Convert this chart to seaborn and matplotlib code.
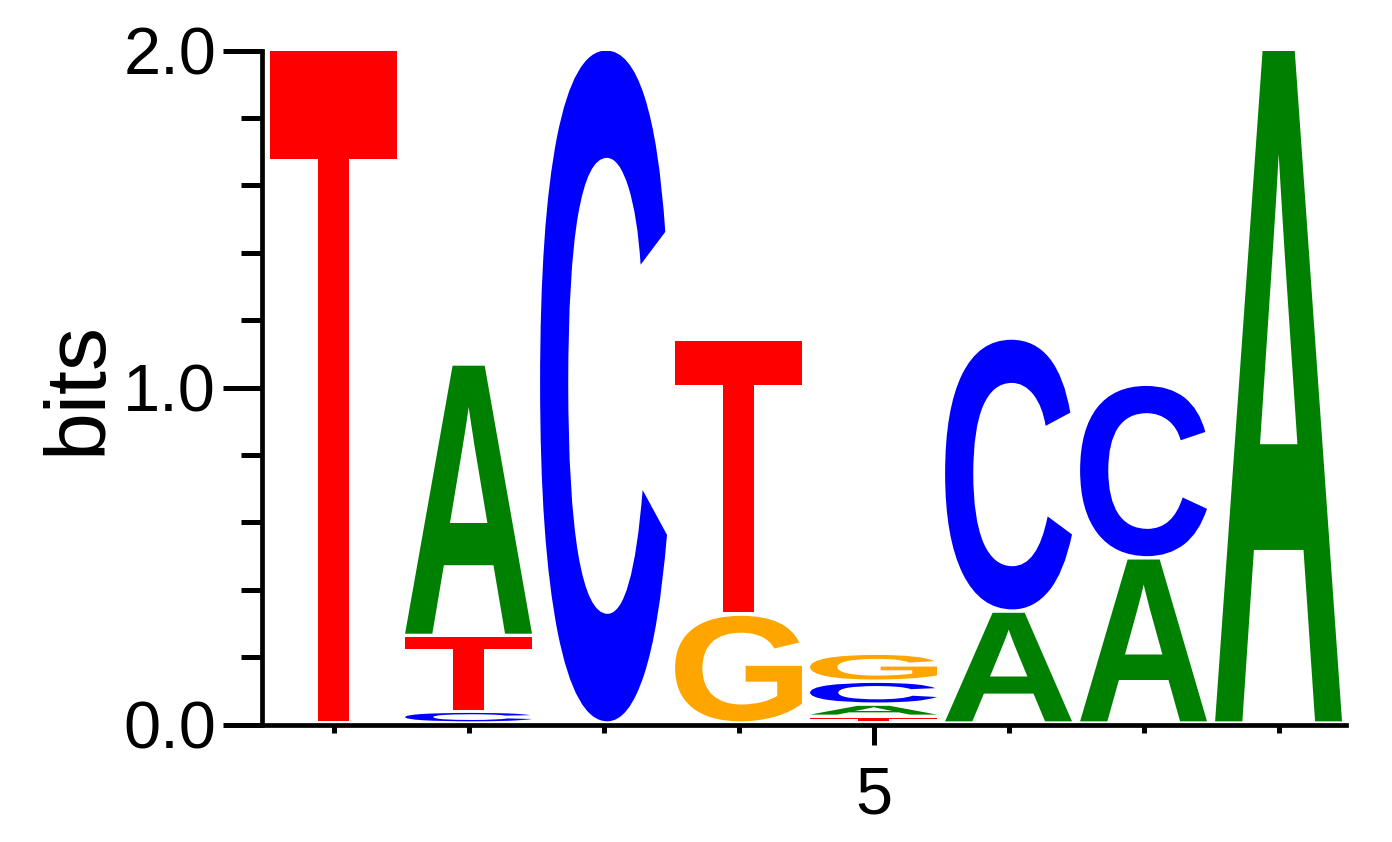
import matplotlib
matplotlib.use("Agg")
import matplotlib.pyplot as plt
import seaborn as sns
from matplotlib.textpath import TextPath
from matplotlib.patches import PathPatch
from matplotlib.font_manager import FontProperties
from matplotlib.transforms import Affine2D
from matplotlib.ticker import FixedLocator

# datos del logo (de abajo hacia arriba en cada posicion)
posiciones = [1, 2, 3, 4, 5, 6, 7, 8]
letras = [["T"], ["C", "T", "A"], ["C"], ["G", "T"], ["T", "A", "C", "G"],
          ["A", "C"], ["A", "C"], ["A"]]
alturas = [[2.0], [0.035, 0.225, 0.805], [2.0], [0.323, 0.816],
           [0.02, 0.036, 0.068, 0.083], [0.332, 0.81], [0.49, 0.515], [2.0]]
colores = {"A": "#008000", "C": "#0000ff", "G": "#ffa500", "T": "#ff0000"}

ANCHO = 0.94
HUECO = 0.01

sns.set_style("ticks")
plt.rcParams["font.family"] = ["Liberation Sans", "DejaVu Sans"]
plt.rcParams["text.color"] = "black"
plt.rcParams["axes.labelcolor"] = "black"
plt.rcParams["xtick.color"] = "black"
plt.rcParams["ytick.color"] = "black"

fp = FontProperties(family="Liberation Sans", weight="bold")


def dibujar_letra(ax, letra, x, y0, h, color):
    tp = TextPath((0, 0), letra, size=1, prop=fp)
    bb = tp.get_extents()
    alto = max(h - HUECO, 0.002)
    tr = (Affine2D().translate(-bb.x0, -bb.y0)
          .scale(ANCHO / bb.width, alto / bb.height)
          .translate(x - ANCHO / 2, y0 + HUECO))
    ax.add_patch(PathPatch(tr.transform_path(tp), facecolor=color,
                           edgecolor="none", lw=0))


fig = plt.figure(figsize=(13.92, 8.42), dpi=100)
ax = fig.add_axes([0.1882, 0.1393, 0.7788, 0.8007])

for pos, ls, hs in zip(posiciones, letras, alturas):
    y = 0.0
    for l, h in zip(ls, hs):
        dibujar_letra(ax, l, pos, y, h, colores[l])
        y += h

ax.set_xlim(0.47, 8.5)
ax.set_ylim(0, 2.0)

# ejes
sns.despine(ax=ax, top=True, right=True)
for s in ["left", "bottom"]:
    ax.spines[s].set_linewidth(3.4)
    ax.spines[s].set_color("black")

ax.xaxis.set_major_locator(FixedLocator([5]))
ax.xaxis.set_minor_locator(FixedLocator([p for p in posiciones if p != 5]))
ax.set_xticklabels(["5"])
ax.yaxis.set_major_locator(FixedLocator([0, 1, 2]))
ax.yaxis.set_minor_locator(FixedLocator([0.2, 0.4, 0.6, 0.8, 1.2, 1.4, 1.6, 1.8]))
ax.set_yticklabels(["0.0", "1.0", "2.0"])

ax.tick_params(axis="x", which="major", length=14.5, width=3.6, pad=15,
               labelsize=48, color="black", labelcolor="black")
ax.tick_params(axis="x", which="minor", length=6, width=3.6, color="black")
ax.tick_params(axis="y", which="major", length=28, width=3.6, pad=5,
               labelsize=48, color="black", labelcolor="black")
ax.tick_params(axis="y", which="minor", length=15, width=3.6, color="black")

ax.set_ylabel("bits", fontsize=62, color="black")
ax.yaxis.set_label_coords(-0.132, 0.5)

fig.savefig("out.png", dpi=100)
